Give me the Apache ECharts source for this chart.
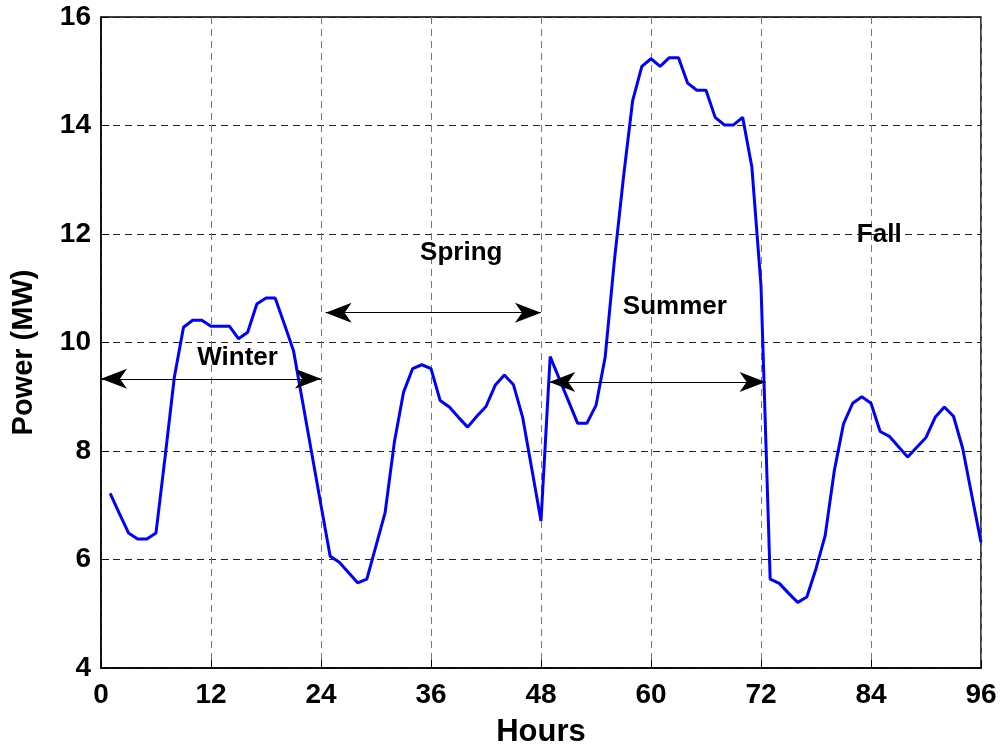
<!DOCTYPE html>
<html>
<head>
<meta charset="utf-8">
<script src="https://cdn.jsdelivr.net/npm/echarts@6/dist/echarts.min.js"></script>
<style>html,body{margin:0;padding:0;background:#fff;}#chart{width:1002px;height:749px;}</style>
</head>
<body>
<div id="chart"></div>
<script>
// Hourly power (MW), hours 1..96
const hours = [];
for (let h = 1; h <= 96; h++) hours.push(h);
const power = [
  7.22, 6.85, 6.49, 6.38, 6.38, 6.49, 7.90, 9.36, 10.28, 10.41, 10.41, 10.30,
  10.30, 10.30, 10.07, 10.19, 10.71, 10.82, 10.82, 10.34, 9.85, 8.90, 7.95, 7.00,
  6.06, 5.95, 5.76, 5.57, 5.64, 6.25, 6.87, 8.16, 9.08, 9.52, 9.59, 9.52,
  8.93, 8.81, 8.62, 8.44, 8.64, 8.82, 9.21, 9.40, 9.22, 8.62, 7.67, 6.71,
  9.74, 9.33, 8.92, 8.51, 8.51, 8.84, 9.73, 11.50, 13.05, 14.46, 15.09, 15.23,
  15.09, 15.25, 15.25, 14.78, 14.65, 14.65, 14.15, 14.01, 14.01, 14.15, 13.24, 11.05,
  5.64, 5.56, 5.38, 5.21, 5.31, 5.83, 6.44, 7.64, 8.50, 8.88, 9.00, 8.88,
  8.36, 8.27, 8.08, 7.89, 8.07, 8.25, 8.62, 8.81, 8.64, 8.05, 7.18, 6.32
];
const xTicks = [0, 12, 24, 36, 48, 60, 72, 84, 96];
const yTicks = [4, 6, 8, 10, 12, 14, 16];

// Season annotations
const seasonNames = ['Winter', 'Spring', 'Summer', 'Fall'];
const arrowStart = [0, 24.5, 48.9, 72.7];
const arrowEnd = [24, 48, 72.5, 96.2];
const arrowLevel = [9.33, 10.55, 9.27, 11.06];
const labelHour = [14.9, 39.3, 62.6, 84.9];
const labelLevel = [9.71, 11.66, 10.66, 11.99];

const lineData = hours.map((h, i) => [h, power[i]]);
const labelData = seasonNames.map((n, i) => ({ name: n, value: [labelHour[i], labelLevel[i]] }));
const headPath = 'path://M0,0 L10,26 L0,19 L-10,26 Z';
const HEAD = [20, 26];
const arrowData = seasonNames.map((n, i) => [
  { coord: [arrowStart[i], arrowLevel[i]], symbolSize: HEAD },
  { coord: [arrowEnd[i], arrowLevel[i]], symbolSize: HEAD }
]);

const FONT = 'Liberation Sans, Arial, sans-serif';
const chart = echarts.init(document.getElementById('chart'), null, { renderer: 'canvas' });
chart.setOption({
  backgroundColor: '#ffffff',
  animation: false,
  grid: {
    left: 101, right: 21, top: 17, bottom: 81, show: true, borderColor: '#000', borderWidth: 1.5,
    backgroundColor: 'transparent', containLabel: false, outerBoundsMode: 'none'
  },
  xAxis: {
    type: 'value', min: xTicks[0], max: xTicks[xTicks.length - 1], interval: 12,
    name: 'Hours', nameLocation: 'middle', nameGap: 49,
    nameTextStyle: { fontFamily: FONT, fontWeight: 'bold', fontSize: 31, color: '#000' },
    axisLine: { show: true, lineStyle: { color: '#000', width: 1.5 } },
    axisTick: { show: true, inside: true, length: 8, lineStyle: { color: '#000' } },
    axisLabel: { fontFamily: FONT, fontWeight: 'bold', fontSize: 28, color: '#000', margin: 13 },
    splitLine: { show: true, lineStyle: { color: '#777', type: [7, 5], width: 1 } }
  },
  yAxis: {
    type: 'value', min: yTicks[0], max: yTicks[yTicks.length - 1], interval: 2,
    name: 'Power (MW)', nameLocation: 'middle', nameGap: 63, nameRotate: 90,
    nameTextStyle: { fontFamily: FONT, fontWeight: 'bold', fontSize: 29, color: '#000', padding: [0, 20, 0, 0] },
    axisLine: { show: true, lineStyle: { color: '#000', width: 1.5 } },
    axisTick: { show: true, inside: true, length: 8, lineStyle: { color: '#000' } },
    axisLabel: { fontFamily: FONT, fontWeight: 'bold', fontSize: 28, color: '#000', margin: 10 },
    splitLine: { show: true, lineStyle: { color: '#222', type: [7, 5], width: 1 } }
  },
  series: [
    {
      type: 'line', data: lineData, showSymbol: false, symbol: 'none',
      lineStyle: { color: '#0000FF', width: 3 }, z: 3,
      markLine: {
        silent: true, animation: false,
        symbol: [headPath, headPath],
        symbolSize: 26,
        symbolOffset: [[0, 13], [0, 13]],
        label: { show: false },
        itemStyle: { color: '#000' },
        lineStyle: { color: '#000', width: 1.2, type: 'solid' },
        emphasis: { disabled: true },
        data: arrowData
      }
    },
    {
      type: 'scatter', data: labelData, symbolSize: 0, silent: true, z: 5,
      itemStyle: { opacity: 1 },
      label: {
        show: true, position: 'inside', formatter: p => p.name,
        fontFamily: FONT, fontWeight: 'bold', fontSize: 26, color: '#000'
      }
    }
  ]
});
</script>
</body>
</html>
